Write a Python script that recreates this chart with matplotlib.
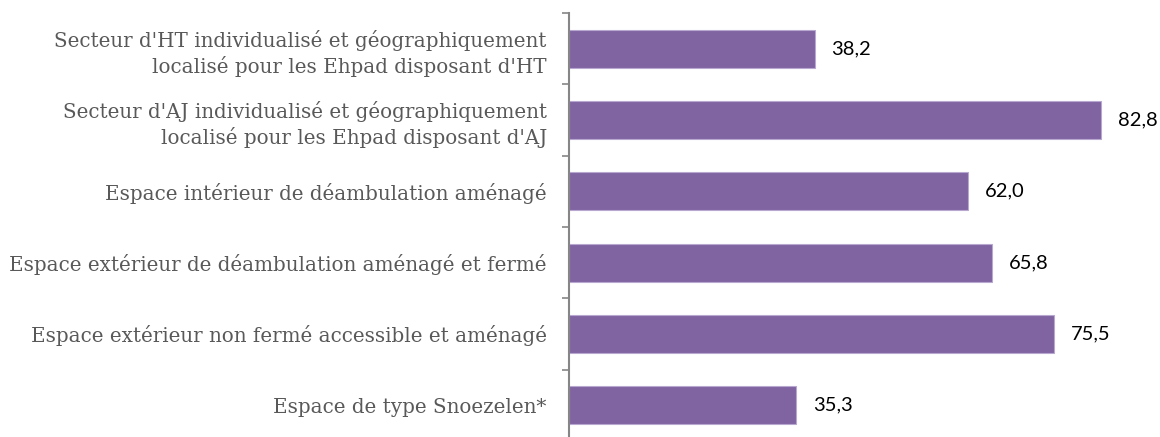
import matplotlib
matplotlib.use("Agg")
import matplotlib.pyplot as plt
import numpy as np

categories = [
    "Secteur d'HT individualisé et géographiquement\nlocalisé pour les Ehpad disposant d'HT",
    "Secteur d'AJ individualisé et géographiquement\nlocalisé pour les Ehpad disposant d'AJ",
    "Espace intérieur de déambulation aménagé",
    "Espace extérieur de déambulation aménagé et fermé",
    "Espace extérieur non fermé accessible et aménagé",
    "Espace de type Snoezelen*",
]
values = [38.2, 82.8, 62.0, 65.8, 75.5, 35.3]
value_labels = ["38,2", "82,8", "62,0", "65,8", "75,5", "35,3"]

W, H = 1160, 437
fig = plt.figure(figsize=(W / 100, H / 100), dpi=100)
left, top, bottom = 569, 13, 441
ax = fig.add_axes([left / W, (H - bottom) / H, 1 - left / W, (bottom - top) / H])

y = np.arange(len(categories))
ax.barh(y, values, height=0.53, color="#8064A2", edgecolor="#b8a8cf", linewidth=0.8)
ax.set_ylim(len(categories) - 0.5, -0.5)
ax.set_xlim(0, (W - left) / 6.43)

for yi, v, lab in zip(y, values, value_labels):
    ax.text(v + 2.6, yi, lab, va="center", ha="left", fontsize=14.5,
            family="Lato", color="#000000")

# boundary ticks
ax.set_yticks(np.arange(-0.5, len(categories) + 0.5, 1.0))
ax.set_yticklabels([])
ax.tick_params(axis="y", direction="out", length=5, width=1.2, color="#868686")
ax.set_yticks(y, minor=True)
ax.set_yticklabels(categories, minor=True, fontsize=14.35, family="DejaVu Serif",
                   color="#595959", linespacing=1.3)
ax.tick_params(axis="y", which="minor", length=0, pad=16)
for t in ax.get_yticklabels(minor=True):
    t.set_horizontalalignment("right")

ax.xaxis.set_visible(False)
for s in ["top", "right", "bottom"]:
    ax.spines[s].set_visible(False)
ax.spines["left"].set_color("#868686")
ax.spines["left"].set_linewidth(1.5)

fig.savefig("out.png", dpi=100)
